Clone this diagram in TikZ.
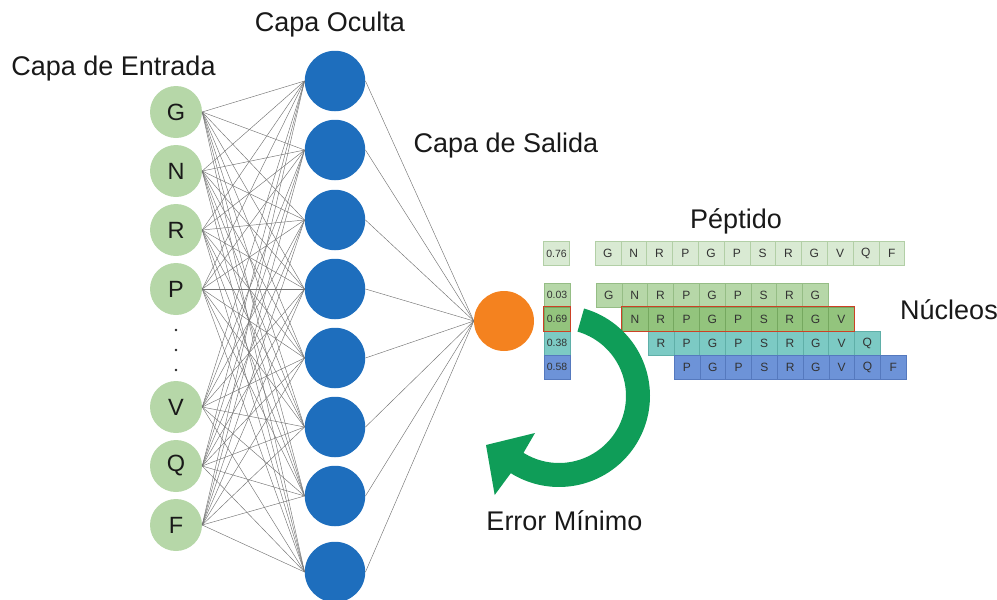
\documentclass[tikz,border=0pt]{standalone}
\usepackage{fontspec}
\setmainfont{Liberation Sans}
\definecolor{ingreen}{HTML}{B6D7A8}
\definecolor{hidblue}{HTML}{1E6EBD}
\definecolor{outorange}{HTML}{F4821F}
\definecolor{arrowgreen}{HTML}{0F9D58}
\definecolor{pepfill}{HTML}{D9EAD3}
\definecolor{pepdraw}{HTML}{B2CFA6}
\definecolor{rowa}{HTML}{B6D7A8}
\definecolor{rowadraw}{HTML}{95BD85}
\definecolor{rowb}{HTML}{93C47D}
\definecolor{rowbdraw}{HTML}{75A85F}
\definecolor{rowc}{HTML}{7CCAC4}
\definecolor{rowcdraw}{HTML}{5FAFA8}
\definecolor{rowd}{HTML}{6D93D8}
\definecolor{rowddraw}{HTML}{5579BE}
\definecolor{redline}{HTML}{CC4125}
\begin{document}
\begin{tikzpicture}[x=1pt,y=-1pt,
  inp/.style={circle, fill=ingreen, minimum size=52pt, inner sep=0pt, font=\fontsize{23.5}{28}\selectfont, text=black!90},
  hid/.style={circle, fill=hidblue, minimum size=60.5pt, inner sep=0pt},
  outn/.style={circle, fill=outorange, minimum size=60pt, inner sep=0pt},
  edge/.style={draw=black!55, line width=0.45pt},
  lbl/.style={font=\fontsize{27}{32}\selectfont, text=black!90, anchor=base, inner sep=0pt},
  dotn/.style={circle, fill=black!85, minimum size=2.6pt, inner sep=0pt},
  cell/.style={rectangle, minimum width=25.8pt, minimum height=24pt, inner sep=0pt, line width=0.6pt, font=\fontsize{12}{14}\selectfont, text=black!80},
  numcell/.style={rectangle, minimum width=26pt, minimum height=24pt, inner sep=0pt, line width=0.6pt, font=\fontsize{10.5}{12}\selectfont, text=black!80}
]
\useasboundingbox (0,0) rectangle (997,600);

% input layer
\foreach \l/\y [count=\i] in {G/112,N/171,R/230,P/289,V/407,Q/466,F/525}
  \node[inp] (i\i) at (176,\y) {\l};
\node[dotn] (d1) at (176,330) {};
\node[dotn] (d2) at (176,350) {};
\node[dotn] (d3) at (176,370) {};

% hidden layer
\foreach \y [count=\j] in {81,150,220,289,358,427,496,572}
  \node[hid] (h\j) at (335,\y) {};

% output
\node[outn] (o) at (504,321) {};

% connections
\foreach \i in {1,...,7}
  \foreach \j in {1,...,8}
    \draw[edge] (i\i.east) -- (h\j.west);
\foreach \j in {1,...,8}
  \draw[edge] (h\j.east) -- (o.west);

% labels
\node[lbl] (lin) at (113.5,75) {Capa de Entrada};
\node[lbl] (lhid) at (330,31.5) {Capa Oculta};
\node[lbl] (lout) at (506,152) {Capa de Salida};
\node[lbl] (lpep) at (736,228.5) {Péptido};
\node[lbl] (lnuc) at (949,319.5) {Núcleos};
\node[lbl] (lerr) at (564.5,530) {Error Mínimo};

% peptide row
\foreach \l [count=\k] in {G,N,R,P,G,P,S,R,G,V,Q,F}
  \node[cell, fill=pepfill, draw=pepdraw] (p\k) at ({595+12.9+25.8*(\k-1)},253.5) {\l};
\node[numcell, fill=pepfill, draw=pepdraw] (n0) at (556.5,253.5) {0.76};

% nuclei rows
\foreach \l [count=\k] in {G,N,R,P,G,P,S,R,G}
  \node[cell, fill=rowa, draw=rowadraw] (a\k) at ({596+12.9+25.8*(\k-1)},295) {\l};
\foreach \l [count=\k] in {N,R,P,G,P,S,R,G,V}
  \node[cell, fill=rowb, draw=rowbdraw] (b\k) at ({622+12.9+25.8*(\k-1)},319) {\l};
\foreach \l [count=\k] in {R,P,G,P,S,R,G,V,Q}
  \node[cell, fill=rowc, draw=rowcdraw] (c\k) at ({648+12.9+25.8*(\k-1)},343) {\l};
\foreach \l [count=\k] in {P,G,P,S,R,G,V,Q,F}
  \node[cell, fill=rowd, draw=rowddraw] (e\k) at ({674+12.9+25.8*(\k-1)},367) {\l};

\node[numcell, fill=rowa, draw=rowadraw] (n1) at (557,295) {0.03};
\node[numcell, fill=rowb, draw=rowbdraw] (n2) at (557,319) {0.69};
\node[numcell, fill=rowc, draw=rowcdraw] (n3) at (557,343) {0.38};
\node[numcell, fill=rowd, draw=rowddraw] (n4) at (557,367) {0.58};

% red highlight
\draw[redline, line width=1pt] (b1.north west) rectangle (b9.south east);
\draw[redline, line width=1pt] (n2.north west) rectangle (n2.south east);

% curved arrow
\fill[arrowgreen]
  plot[domain=-74:122, samples=70] ({559+91*cos(\x)},{396+91*sin(\x)})
  -- (494.7,495) -- (486,445) -- (535,433)
  -- plot[domain=122:-74, samples=70] ({559+67*cos(\x)},{396+67*sin(\x)})
  -- cycle;
\end{tikzpicture}
\end{document}
